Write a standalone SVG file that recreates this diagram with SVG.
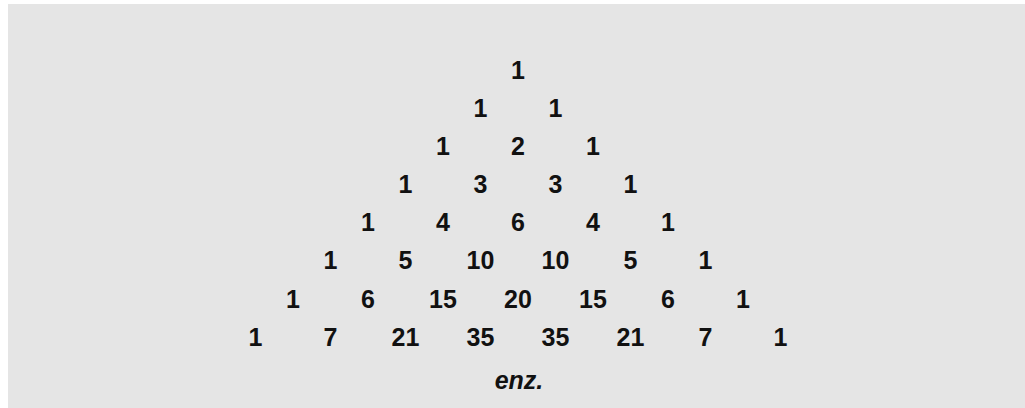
<svg xmlns="http://www.w3.org/2000/svg" width="1025" height="408" viewBox="0 0 1025 408">
<style>
.n{font-family:"Liberation Sans",Arial,sans-serif;font-weight:bold;font-size:25px;fill:#111;text-anchor:middle}
.e{font-family:"Liberation Sans",Arial,sans-serif;font-weight:bold;font-style:italic;font-size:25px;fill:#111;text-anchor:middle}
</style>
<rect x="0" y="0" width="1025" height="408" fill="#ffffff"/>
<rect x="8" y="4" width="1017" height="404" fill="#e5e5e5"/>
<g id="row1"><text class="n" x="518" y="79">1</text></g>
<g id="row2"><text class="n" x="480.5" y="117">1</text><text class="n" x="555.5" y="117">1</text></g>
<g id="row3"><text class="n" x="443" y="155">1</text><text class="n" x="518" y="155">2</text><text class="n" x="593" y="155">1</text></g>
<g id="row4"><text class="n" x="405.5" y="193">1</text><text class="n" x="480.5" y="193">3</text><text class="n" x="555.5" y="193">3</text><text class="n" x="630.5" y="193">1</text></g>
<g id="row5"><text class="n" x="368" y="231">1</text><text class="n" x="443" y="231">4</text><text class="n" x="518" y="231">6</text><text class="n" x="593" y="231">4</text><text class="n" x="668" y="231">1</text></g>
<g id="row6"><text class="n" x="330.5" y="269">1</text><text class="n" x="405.5" y="269">5</text><text class="n" x="480.5" y="269">10</text><text class="n" x="555.5" y="269">10</text><text class="n" x="630.5" y="269">5</text><text class="n" x="705.5" y="269">1</text></g>
<g id="row7"><text class="n" x="293" y="308">1</text><text class="n" x="368" y="308">6</text><text class="n" x="443" y="308">15</text><text class="n" x="518" y="308">20</text><text class="n" x="593" y="308">15</text><text class="n" x="668" y="308">6</text><text class="n" x="743" y="308">1</text></g>
<g id="row8"><text class="n" x="255.5" y="346">1</text><text class="n" x="330.5" y="346">7</text><text class="n" x="405.5" y="346">21</text><text class="n" x="480.5" y="346">35</text><text class="n" x="555.5" y="346">35</text><text class="n" x="630.5" y="346">21</text><text class="n" x="705.5" y="346">7</text><text class="n" x="780.5" y="346">1</text></g>
<g id="etc"><text class="e" x="519" y="389">enz.</text></g>
</svg>
